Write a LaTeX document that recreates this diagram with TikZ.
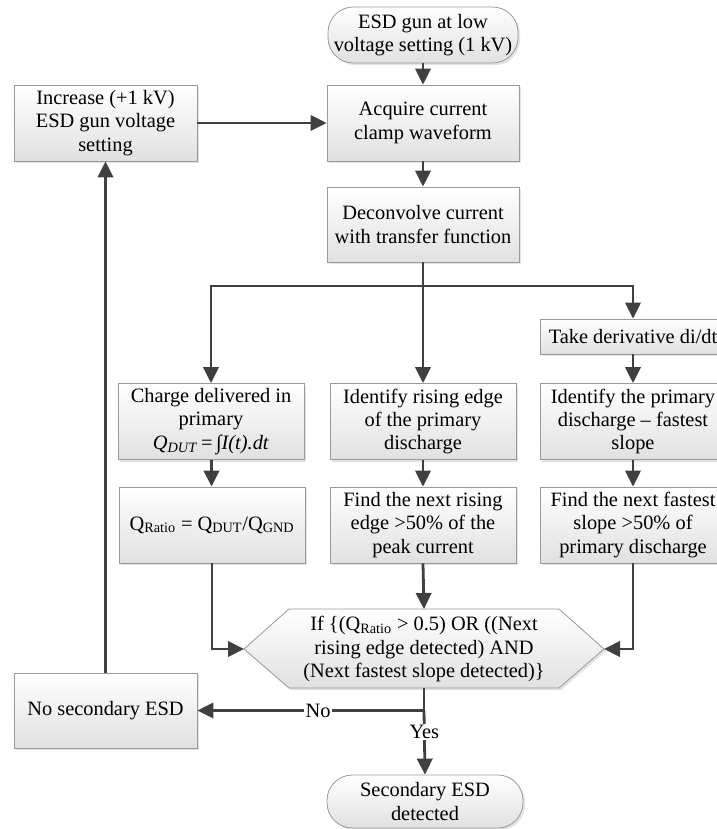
\documentclass[tikz,border=0pt]{standalone}
\usepackage{fontspec}
\setmainfont{Liberation Serif}
\usetikzlibrary{arrows.meta,shadows,calc}
\definecolor{linec}{HTML}{404040}
\definecolor{bordc}{HTML}{9A9A9A}
\tikzset{
  boxfill/.style={draw=bordc, line width=0.6pt, top color=white, bottom color=gray!24,
    drop shadow={shadow xshift=1.6pt, shadow yshift=-1.6pt, opacity=0.22}},
  box/.style={boxfill, align=center, inner sep=2pt,
    font=\fontsize{15.3}{17.5}\selectfont,
    minimum width=139.5pt, minimum height=57pt},
  term/.style={box, rounded corners=19pt},
  arr/.style={draw=linec, line width=2.1pt, -{Triangle[length=12pt,width=11.5pt]}},
  conn/.style={draw=linec, line width=2.1pt},
  lbl/.style={fill=white, inner sep=1pt, font=\fontsize{15.3}{17.5}\selectfont, text=black}
}
\begin{document}
\begin{tikzpicture}[x=0.75pt, y=-0.75pt]
\clip (0,0) rectangle (717,829);
\useasboundingbox (0,0) rectangle (717,829);
\fill[white] (0,0) rectangle (717,829);

% nodes
\node[term, minimum width=142.5pt, minimum height=42pt] (start) at (423,35)
  {ESD gun at low\\voltage setting (1 kV)};
\node[box, minimum width=144pt] (acq) at (423,123) {Acquire current\\clamp waveform};
\node[box, minimum width=137.25pt] (inc) at (105.5,123) {Increase (+1 kV)\\ESD gun voltage\\setting};
\node[box, minimum width=144pt, minimum height=56.25pt] (dec1) at (423,224.5)
  {Deconvolve current\\with transfer function};
\coordinate (br) at (423,286);

\node[box, minimum height=26.25pt] (deriv) at (633,336.5) {Take derivative di/dt};

\node[box] (charge) at (211,421.5)
  {Charge delivered in\\primary\\\textit{Q}\textsubscript{\textit{DUT}}\,=\,∫\textit{I(t).dt}};
\node[box] (rising) at (423,421.5) {Identify rising edge\\of the primary\\discharge};
\node[box] (prim) at (633,421.5) {Identify the primary\\discharge – fastest\\slope};

\node[box] (qratio) at (212,525)
  {Q\textsubscript{Ratio} = Q\textsubscript{DUT}/Q\textsubscript{GND}};
\node[box] (nextr) at (423,525) {Find the next rising\\edge >50\% of the\\peak current};
\node[box] (nextf) at (633,525) {Find the next fastest\\slope >50\% of\\primary discharge};

% decision hexagon
\path[boxfill] (244,649) -- (289,609) -- (559,609) -- (604,649) -- (559,688) -- (289,688) -- cycle;
\coordinate (decL) at (244,649);
\coordinate (decR) at (604,649);
\coordinate (decT) at (424,609);
\coordinate (decB) at (424,688);
\node[align=center, inner sep=0pt, font=\fontsize{15.3}{17.5}\selectfont] (dectext) at (424,649)
  {If \{(Q\textsubscript{Ratio} > 0.5) OR ((Next\\rising edge detected) AND\\(Next fastest slope detected)\}};

\node[box, minimum width=137.25pt, minimum height=56.25pt] (nosec) at (105.5,710.5) {No secondary ESD};
\node[term, minimum width=147pt, minimum height=39.75pt] (endn) at (425,801.5) {Secondary ESD\\detected};
\coordinate (jn) at (decB |- nosec.east);

% connectors
\draw[arr] (start) -- (acq);
\draw[arr] (inc) -- (acq);
\draw[arr] (acq) -- (dec1);
\draw[arr] (dec1.south) -- (rising.north);
\draw[arr] (br) -| (charge.north);
\draw[arr] (br) -| (deriv.north);
\draw[arr] (deriv) -- (prim);
\draw[arr] (charge) -- (qratio);
\draw[arr] (rising) -- (nextr);
\draw[arr] (prim) -- (nextf);
\draw[arr] (qratio.south) |- (decL);
\draw[arr] (nextr.south) -- (decT);
\draw[arr] (nextf.south) |- (decR);
\draw[conn] (decB) -- (jn);
\draw[arr] (jn) -- node[lbl, pos=0.467] {No} (nosec.east);
\draw[arr] (jn) -- node[lbl, pos=0.34] {Yes} (endn.north);
\draw[arr] (nosec.north) -- (inc.south);
\end{tikzpicture}
\end{document}
